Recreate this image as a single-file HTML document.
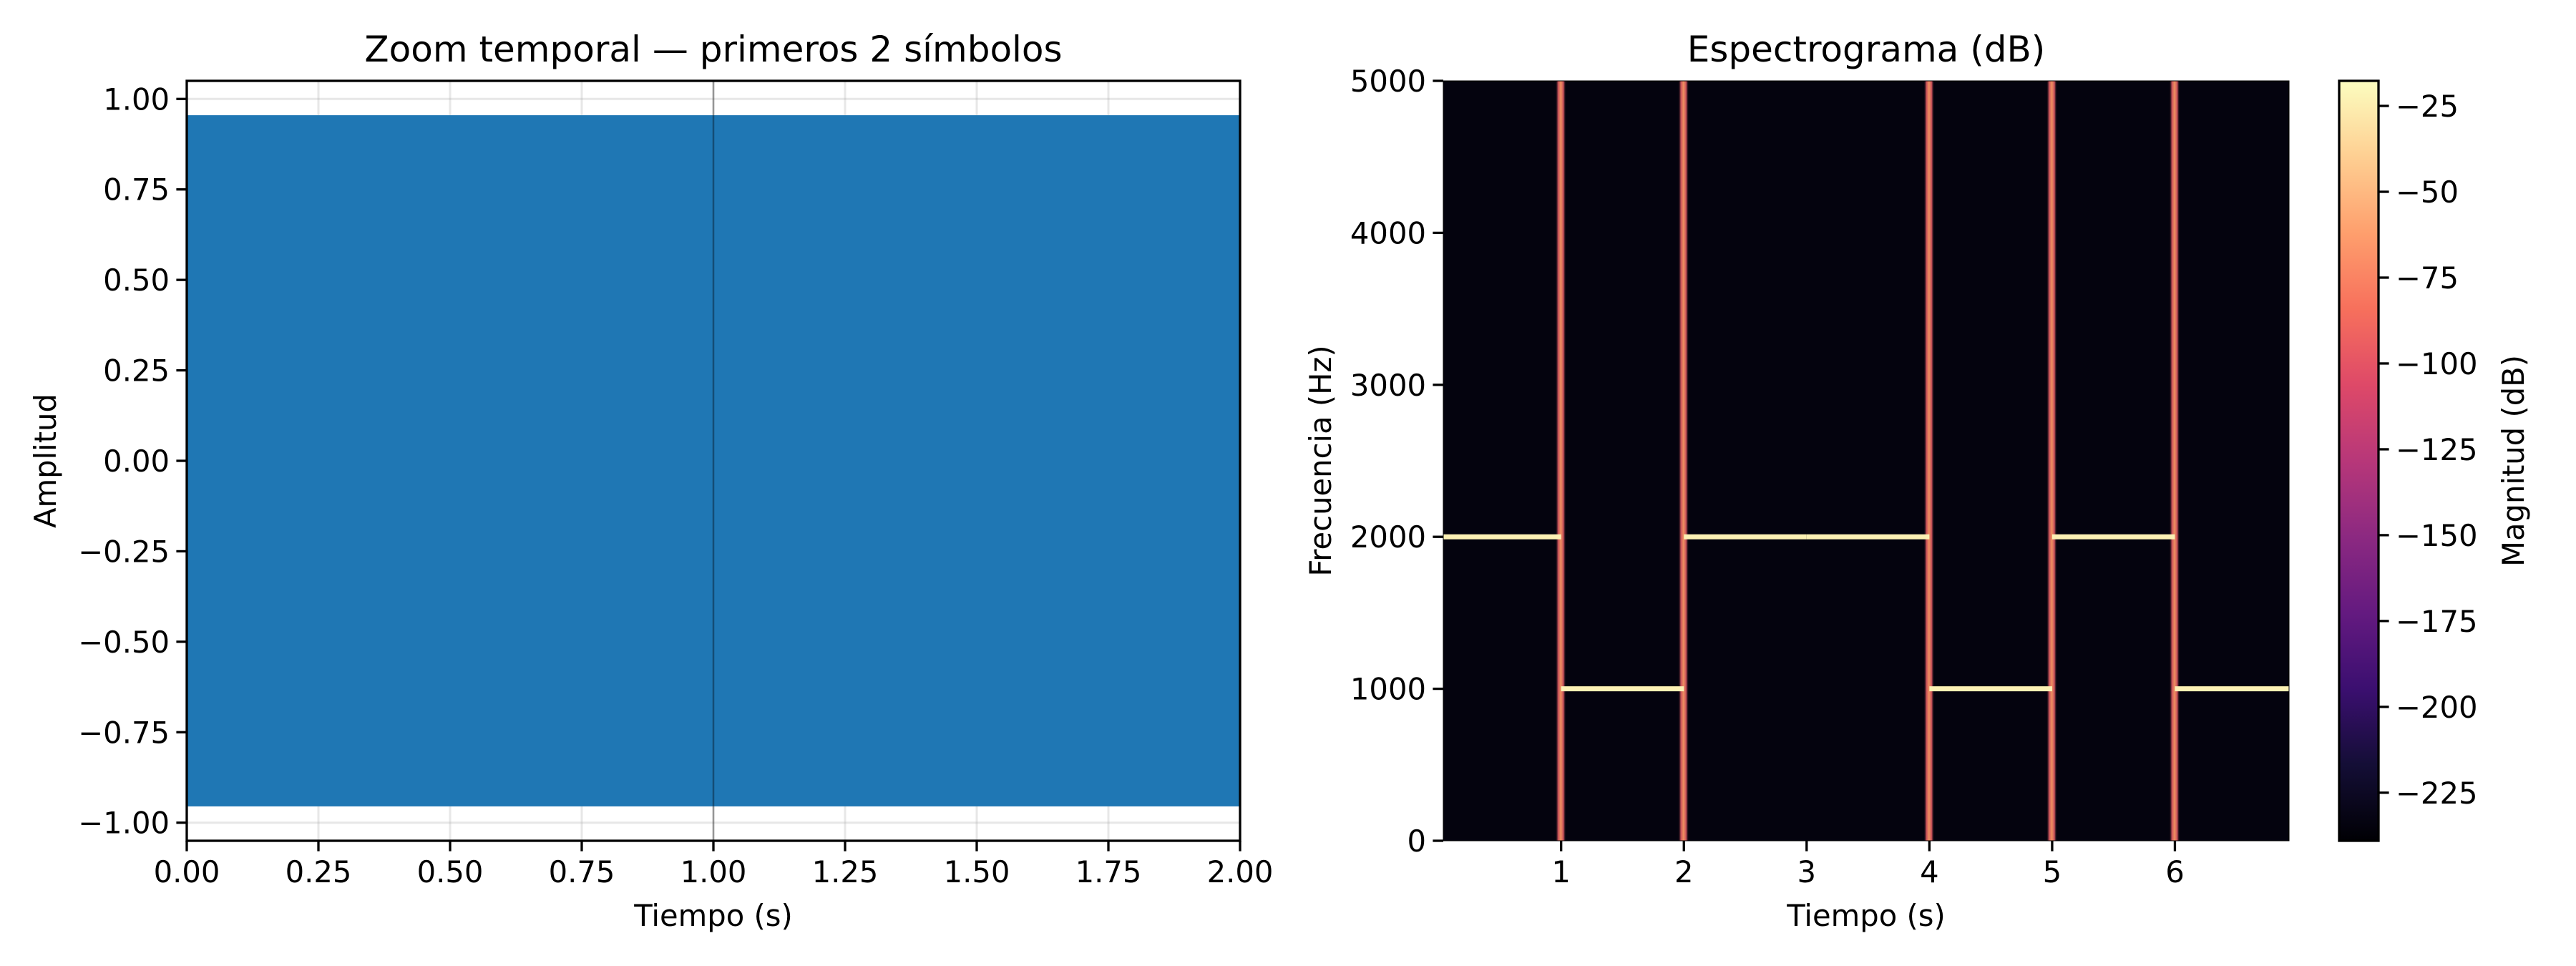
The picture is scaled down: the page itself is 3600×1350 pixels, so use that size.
<!DOCTYPE html>
<html><head><meta charset="utf-8"><style>
html,body{margin:0;padding:0;background:#fff;}
svg{display:block;font-family:"DejaVu Sans","Liberation Sans",sans-serif;}
</style></head><body>
<svg id="fig" width="3600" height="1350" viewBox="0 0 3600 1350" xmlns="http://www.w3.org/2000/svg">
<defs>
<linearGradient id="magma" x1="0" y1="1" x2="0" y2="0">
<stop offset="0" stop-color="#000004"/><stop offset="0.1" stop-color="#140e36"/><stop offset="0.2" stop-color="#3b0f70"/><stop offset="0.3" stop-color="#641a80"/><stop offset="0.4" stop-color="#8c2981"/><stop offset="0.5" stop-color="#b73779"/><stop offset="0.6" stop-color="#de4968"/><stop offset="0.7" stop-color="#f7705c"/><stop offset="0.8" stop-color="#fe9f6d"/><stop offset="0.9" stop-color="#fecf92"/><stop offset="1" stop-color="#fcfdbf"/>
</linearGradient>
<linearGradient id="vline" x1="0" y1="0" x2="1" y2="0">
<stop offset="0" stop-color="#05030f" stop-opacity="0"/><stop offset="0.25" stop-color="#c8505a"/><stop offset="0.5" stop-color="#f09060"/><stop offset="0.75" stop-color="#c8505a"/><stop offset="1" stop-color="#05030f" stop-opacity="0"/>
</linearGradient>
</defs>
<g id="left"></g>
<g id="right"></g>
<g id="cbar"></g>
</svg>
<script>
const xTicksL = [0,0.25,0.5,0.75,1.0,1.25,1.5,1.75,2.0];
const xTickLabelsL = ["0.00","0.25","0.50","0.75","1.00","1.25","1.50","1.75","2.00"];
const yTicksL = [-1,-0.75,-0.5,-0.25,0,0.25,0.5,0.75,1.0];
const yTickLabelsL = ["−1.00","−0.75","−0.50","−0.25","0.00","0.25","0.50","0.75","1.00"];
const amplitudeEnvelope = [0.955,-0.955];
const markerTime = [1.0];
const symbolFreqs = [2000,1000,2000,2000,1000,2000,1000];
const symbolStarts = [0,1,2,3,4,5,6];
const xTicksR = [1,2,3,4,5,6];
const yTicksR = [0,1000,2000,3000,4000,5000];
const cbarTicks = [-25,-50,-75,-100,-125,-150,-175,-200,-225];
const cbarRange = [-239,-17.7];
const specTimeRange = [0.04,6.93];

const NS="http://www.w3.org/2000/svg";
function mk(parent,tag,attrs,text){const e=document.createElementNS(NS,tag);for(const k in attrs)e.setAttribute(k,attrs[k]);if(text!==undefined)e.textContent=text;parent.appendChild(e);return e;}
const FS=41.7;

// LEFT PANEL
const L=document.getElementById('left');
const lx0=261,lx1=1733,ly0=113,ly1=1175;
const xL=v=>lx0+(v-0)/(2-0)*(lx1-lx0);
const yL=v=>ly1-(v+1.05)/2.1*(ly1-ly0);
xTicksL.forEach(v=>{const g=mk(L,'line',{x1:xL(v),x2:xL(v),y1:ly0,y2:ly1,stroke:'#b0b0b0','stroke-opacity':0.3,'stroke-width':3});
});
yTicksL.forEach(v=>{const g=mk(L,'line',{x1:lx0,x2:lx1,y1:yL(v),y2:yL(v),stroke:'#b0b0b0','stroke-opacity':0.3,'stroke-width':3});
});
const sig=mk(L,'rect',{x:xL(0),y:yL(amplitudeEnvelope[0]),width:xL(2)-xL(0),height:yL(amplitudeEnvelope[1])-yL(amplitudeEnvelope[0]),fill:'#1f77b4'});

markerTime.forEach(t=>{const m=mk(L,'line',{x1:xL(t),x2:xL(t),y1:ly0,y2:ly1,stroke:'#000','stroke-opacity':0.35,'stroke-width':2.5});
});
const fr=mk(L,'rect',{x:lx0,y:ly0,width:lx1-lx0,height:ly1-ly0,fill:'none',stroke:'#000','stroke-width':3.3});

xTicksL.forEach((v,i)=>{mk(L,'line',{x1:xL(v),x2:xL(v),y1:ly1,y2:ly1+14.6,stroke:'#000','stroke-width':3.3});
const t=mk(L,'text',{x:xL(v),y:ly1+58,'font-size':FS,'text-anchor':'middle'},xTickLabelsL[i]);
});
yTicksL.forEach((v,i)=>{mk(L,'line',{x1:lx0-14.6,x2:lx0,y1:yL(v),y2:yL(v),stroke:'#000','stroke-width':3.3});
const t=mk(L,'text',{x:lx0-24,y:yL(v)+15,'font-size':FS,'text-anchor':'end'},yTickLabelsL[i]);
});
let t=mk(L,'text',{x:(lx0+lx1)/2,y:1294,'font-size':FS,'text-anchor':'middle'},'Tiempo (s)');

t=mk(L,'text',{x:0,y:0,'font-size':FS,'text-anchor':'middle',transform:'translate(78,644) rotate(-90)'},'Amplitud');

t=mk(L,'text',{x:(lx0+lx1)/2,y:86,'font-size':50,'text-anchor':'middle'},'Zoom temporal — primeros 2 símbolos');


// RIGHT PANEL
const R=document.getElementById('right');
const rx0=2017,rx1=3199,ry0=113,ry1=1175;
const xR=v=>rx0+(v-specTimeRange[0])/(specTimeRange[1]-specTimeRange[0])*(rx1-rx0);
const yR=v=>ry1-v/5000*(ry1-ry0);
const bg=mk(R,'rect',{x:rx0,y:ry0,width:rx1-rx0,height:ry1-ry0,fill:'#04030e'});

symbolFreqs.forEach((f,i)=>{if(i>0&&f!==symbolFreqs[i-1]){const x=xR(symbolStarts[i]);
const v=mk(R,'rect',{x:x-8,y:ry0,width:15,height:ry1-ry0,fill:'url(#vline)'});
}});
symbolFreqs.forEach((f,i)=>{const a=Math.max(symbolStarts[i],specTimeRange[0]);const b=Math.min(symbolStarts[i]+1,specTimeRange[1]);
const h=mk(R,'rect',{x:xR(a),y:yR(f)-3.5,width:xR(b)-xR(a),height:7,fill:'#fcf1b4'});
});
const fr2=mk(R,'rect',{x:rx0,y:ry0,width:rx1-rx0,height:ry1-ry0,fill:'none',stroke:'#000','stroke-width':1});

xTicksR.forEach(v=>{mk(R,'line',{x1:xR(v),x2:xR(v),y1:ry1,y2:ry1+14.6,stroke:'#000','stroke-width':3.3});
const t=mk(R,'text',{x:xR(v),y:ry1+58,'font-size':FS,'text-anchor':'middle'},String(v));
});
yTicksR.forEach(v=>{mk(R,'line',{x1:rx0-14.6,x2:rx0,y1:yR(v),y2:yR(v),stroke:'#000','stroke-width':3.3});
const t=mk(R,'text',{x:rx0-24,y:yR(v)+15,'font-size':FS,'text-anchor':'end'},String(v));
});
t=mk(R,'text',{x:(rx0+rx1)/2,y:1294,'font-size':FS,'text-anchor':'middle'},'Tiempo (s)');

t=mk(R,'text',{x:0,y:0,'font-size':FS,'text-anchor':'middle',transform:'translate(1860,644) rotate(-90)'},'Frecuencia (Hz)');

t=mk(R,'text',{x:(rx0+rx1)/2,y:86,'font-size':50,'text-anchor':'middle'},'Espectrograma (dB)');


// COLORBAR
const C=document.getElementById('cbar');
const cx0=3269,cx1=3324,cy0=113,cy1=1175;
const yC=v=>cy1-(v-cbarRange[0])/(cbarRange[1]-cbarRange[0])*(cy1-cy0);
const cb=mk(C,'rect',{x:cx0,y:cy0,width:cx1-cx0,height:cy1-cy0,fill:'url(#magma)',stroke:'#000','stroke-width':3.3});

cbarTicks.forEach(v=>{mk(C,'line',{x1:cx1,x2:cx1+14.6,y1:yC(v),y2:yC(v),stroke:'#000','stroke-width':3.3});
const t=mk(C,'text',{x:cx1+24,y:yC(v)+15,'font-size':FS,'text-anchor':'start'},'−'+Math.abs(v));
});
t=mk(C,'text',{x:0,y:0,'font-size':FS,'text-anchor':'middle',transform:'translate(3527,644) rotate(-90)'},'Magnitud (dB)');

</script>
</body></html>
